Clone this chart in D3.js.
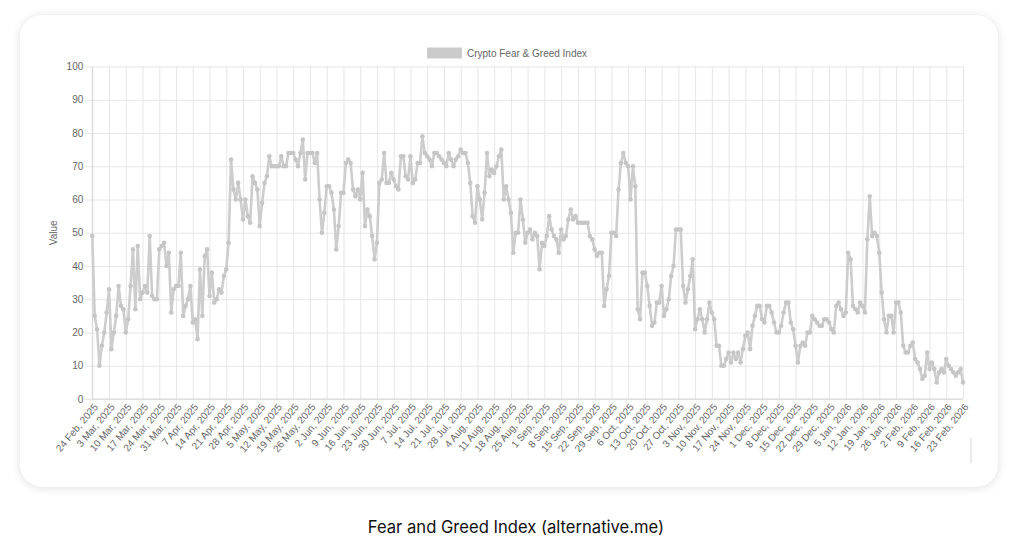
<!DOCTYPE html>
<html><head><meta charset="utf-8">
<script src="https://cdn.jsdelivr.net/npm/d3@7"></script>
<style>
html,body{margin:0;padding:0;background:#fff;width:1024px;height:549px;overflow:hidden;}
#card{position:absolute;left:20px;top:15px;width:978px;height:472px;border-radius:22px;background:#fff;box-shadow:0 1px 10px rgba(0,0,0,0.13);}
svg{position:absolute;left:0;top:0;}
</style></head><body>
<div id="card"></div>
<svg id="chart" width="1024" height="549"></svg>
<script>
// ---- data ----
const startDate = "2025-02-24";
const seriesName = "Crypto Fear & Greed Index";
const yTitle = "Value";
const caption = "Fear and Greed Index (alternative.me)";
const values = [
  49,25,21,10,16,20,26,33,15,20,
  25,34,28,27,20,24,34,45,27,46,
  30,32,34,32,49,31,30,30,45,46,
  47,40,44,26,33,34,34,44,25,28,
  30,34,23,24,18,39,25,43,45,31,
  38,29,30,33,32,37,39,47,72,63,
  60,65,60,54,60,55,53,67,65,63,
  52,59,65,67,73,70,70,70,70,73,
  70,70,74,74,74,72,70,74,78,66,
  74,74,74,71,74,60,50,56,64,64,
  62,57,45,52,62,62,71,72,71,63,
  61,63,60,68,52,57,55,49,42,47,
  65,66,74,65,65,68,66,64,63,73,
  73,67,66,73,65,66,71,71,79,74,
  73,72,70,74,74,73,72,71,70,74,
  72,70,72,73,75,74,74,71,65,55,
  53,64,60,54,62,74,67,69,68,70,
  73,75,60,64,60,56,44,50,50,60,
  54,47,50,51,48,50,49,39,47,46,
  49,55,51,49,48,44,51,48,49,54,
  57,54,55,53,53,53,53,53,49,48,
  45,43,44,44,28,33,37,50,50,49,
  63,71,74,71,70,60,70,64,27,24,
  38,38,34,28,22,23,29,29,34,25,
  27,30,37,40,51,51,51,34,29,33,
  37,42,21,24,27,24,20,24,29,26,
  24,16,16,10,10,12,14,11,14,12,
  14,11,15,19,20,15,22,25,28,28,
  24,23,28,28,26,23,20,20,22,26,
  29,29,23,21,16,11,16,17,16,20,
  20,25,24,23,22,22,24,24,23,21,
  20,28,29,27,25,26,44,42,28,27,
  26,29,28,26,48,61,49,50,49,44,
  32,24,20,25,25,20,29,29,26,16,
  14,14,16,17,12,11,9,6,7,14,
  9,11,9,5,8,9,8,12,10,9,
  8,7,8,9,5
];
const tickLabels = [
  "24 Feb, 2025","3 Mar, 2025","10 Mar, 2025","17 Mar, 2025","24 Mar, 2025","31 Mar, 2025",
  "7 Apr, 2025","14 Apr, 2025","21 Apr, 2025","28 Apr, 2025","5 May, 2025","12 May, 2025",
  "19 May, 2025","26 May, 2025","2 Jun, 2025","9 Jun, 2025","16 Jun, 2025","23 Jun, 2025",
  "30 Jun, 2025","7 Jul, 2025","14 Jul, 2025","21 Jul, 2025","28 Jul, 2025","4 Aug, 2025",
  "11 Aug, 2025","18 Aug, 2025","25 Aug, 2025","1 Sep, 2025","8 Sep, 2025","15 Sep, 2025",
  "22 Sep, 2025","29 Sep, 2025","6 Oct, 2025","13 Oct, 2025","20 Oct, 2025","27 Oct, 2025",
  "3 Nov, 2025","10 Nov, 2025","17 Nov, 2025","24 Nov, 2025","1 Dec, 2025","8 Dec, 2025",
  "15 Dec, 2025","22 Dec, 2025","29 Dec, 2025","5 Jan, 2026","12 Jan, 2026","19 Jan, 2026",
  "26 Jan, 2026","2 Feb, 2026","9 Feb, 2026","16 Feb, 2026","23 Feb, 2026"
];
const yTicks = [0,10,20,30,40,50,60,70,80,90,100];

// ---- build ----
const start = new Date(startDate + "T00:00:00");
const dates = values.map((_, i) => d3.timeDay.offset(start, i));
const data = values.map((v, i) => ({date: dates[i], i, v}));

const svg = d3.select("#chart");
const FONT = "'Liberation Sans', Arial, Helvetica, sans-serif";
const L = 92.3, R = 963, T = 66.5, B = 399;
const x = d3.scaleLinear().domain([0, values.length - 1]).range([L, R]);
const y = d3.scaleLinear().domain([0, 100]).range([B, T]);
const tickIdx = tickLabels.map((_, k) => k * 7);
const grid = "#e6e6e6";

// horizontal grid + y ticks
const yAxis = d3.axisLeft(y).tickValues(yTicks).tickSize(-(R - L)).tickPadding(9).tickFormat(d3.format("d"));
const gy = svg.append("g").attr("transform", `translate(${L},0)`).call(yAxis);
gy.select(".domain").remove();
gy.selectAll("line").attr("stroke", grid).attr("x1", -7);
gy.selectAll("text").attr("fill", "#666").attr("font-family", FONT).attr("font-size", 10);

// vertical grid + x ticks
const xAxis = d3.axisBottom(x).tickValues(tickIdx).tickSize(-(B - T)).tickFormat((d, k) => tickLabels[k]);
const gx = svg.append("g").attr("transform", `translate(0,${B})`).call(xAxis);
gx.select(".domain").remove();
gx.selectAll("line").attr("stroke", grid);
gx.selectAll("text")
  .attr("fill", "#666").attr("font-family", FONT).attr("font-size", 10)
  .attr("text-anchor", "end")
  .attr("y", 0).attr("dy", "0.35em")
  .attr("transform", "translate(3,6) rotate(-50)");

// axis lines
svg.append("line").attr("x1", L).attr("x2", L).attr("y1", T).attr("y2", B).attr("stroke", "#d6d6d6");
svg.append("line").attr("x1", L).attr("x2", R).attr("y1", B).attr("y2", B).attr("stroke", "#d6d6d6");

// y title
svg.append("text").attr("transform", `translate(57,${(T + B) / 2}) rotate(-90)`)
  .attr("text-anchor", "middle").attr("fill", "#666").attr("font-family", FONT).attr("font-size", 10)
  .text(yTitle);

// line + points
const lineGen = d3.line().x(d => x(d.i)).y(d => y(d.v));
svg.append("path").datum(data).attr("d", lineGen)
  .attr("fill", "none").attr("stroke", "#cdcdcd").attr("stroke-width", 2.6).attr("stroke-linejoin", "round");
svg.append("g").selectAll("circle").data(data).join("circle")
  .attr("cx", d => x(d.i)).attr("cy", d => y(d.v)).attr("r", 2.3)
  .attr("fill", "#c6c6c6");

// legend
const lg = svg.append("g").attr("transform", "translate(427,47.5)");
lg.append("rect").attr("width", 35).attr("height", 11).attr("fill", "#cbcbcb");
lg.append("text").attr("x", 40).attr("y", 5.5).attr("dy", "0.35em")
  .attr("fill", "#666").attr("font-family", FONT).attr("font-size", 10).text(seriesName);

// small decorative scrollbar-like line
svg.append("line").attr("x1", 971).attr("x2", 971).attr("y1", 438).attr("y2", 463)
  .attr("stroke", "#dcdcdc").attr("stroke-width", 1.2);

// caption
svg.append("text").attr("x", 516).attr("y", 527).attr("dy", "0.35em").attr("text-anchor", "middle")
  .attr("fill", "#111").attr("font-family", "Inter, 'Noto Sans', sans-serif").attr("font-size", 16.6)
  .text(caption);
</script>
</body></html>
